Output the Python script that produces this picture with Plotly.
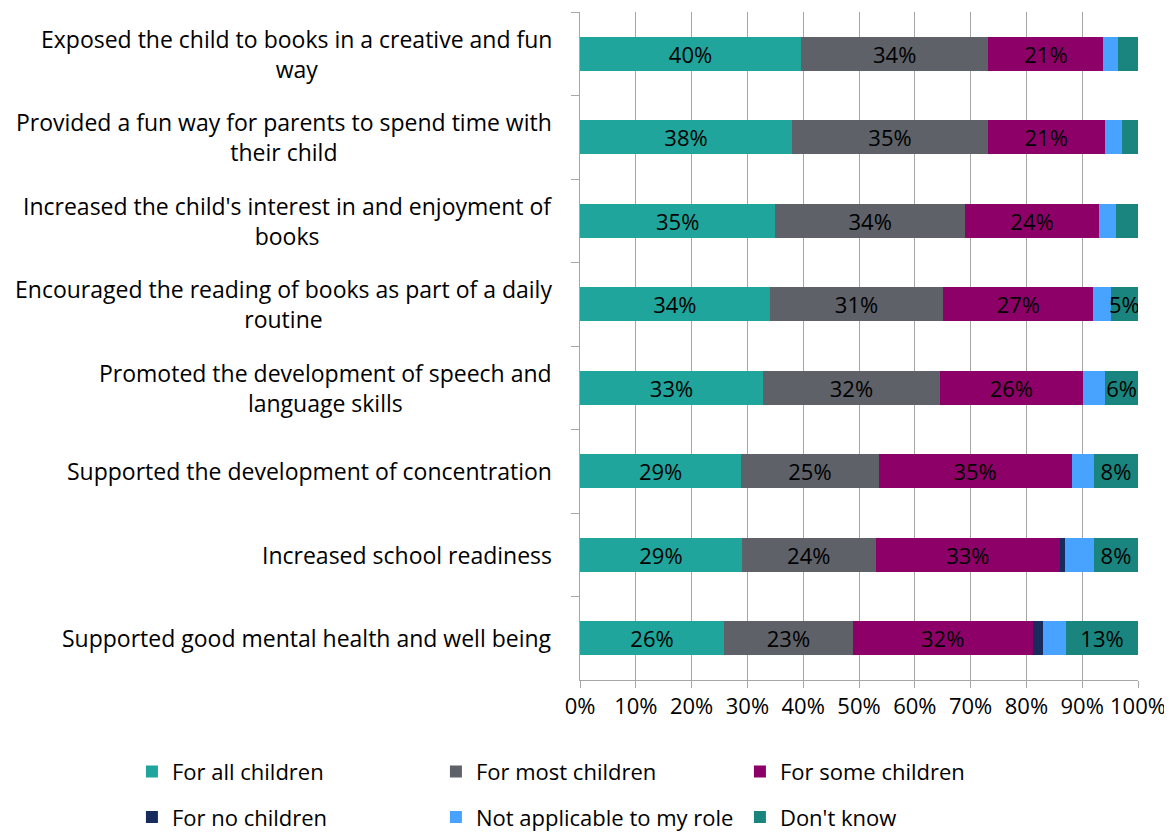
import plotly.graph_objects as go

categories = [
    "Exposed the child to books in a creative and fun<br>way",
    "Provided a fun way for parents to spend time with<br>their child",
    "Increased the child's interest in and enjoyment of<br>books",
    "Encouraged the reading of books as part of a daily<br>routine",
    "Promoted the development of speech and<br>language skills",
    "Supported the development of concentration",
    "Increased school readiness",
    "Supported good mental health and well being",
]

series_names = ["For all children", "For most children", "For some children",
                "For no children", "Not applicable to my role", "Don't know"]

all_children = [39.6, 38.0, 35.0, 34.0, 32.8, 28.9, 29.0, 25.8]
most_children = [33.6, 35.1, 34.0, 31.1, 31.7, 24.6, 24.0, 23.1]
some_children = [20.6, 20.9, 24.0, 26.9, 25.6, 34.6, 33.0, 32.2]
no_children = [0.0, 0.0, 0.0, 0.0, 0.0, 0.0, 1.0, 1.9]
not_applicable = [2.6, 3.1, 3.0, 3.1, 4.0, 4.0, 5.1, 4.1]
dont_know = [3.6, 2.9, 4.0, 4.9, 5.9, 7.9, 7.9, 12.9]

tick_vals = [0, 0.1, 0.2, 0.3, 0.4, 0.5, 0.6, 0.7, 0.8, 0.9, 1.0]
tick_text = ["0%", "10%", "20%", "30%", "40%", "50%", "60%", "70%", "80%", "90%", "100%"]

colors = ["#1FA59B", "#5E6168", "#8C0068", "#172B5C", "#47A3FF", "#1A857F"]
label_rule = ["all", "all", "all", "none", "none", "big"]
legends = ["legend", "legend", "legend", "legend2", "legend2", "legend2"]

FONT = "Open Sans"
FS = 23

values = [all_children, most_children, some_children, no_children, not_applicable, dont_know]

fig = go.Figure()
for name, vals, col, rule, lg in zip(series_names, values, colors, label_rule, legends):
    if rule == "all":
        txt = [f"{round(v)}%" for v in vals]
    elif rule == "big":
        txt = [f"{round(v)}%" if v >= 4.5 else "" for v in vals]
    else:
        txt = ["" for v in vals]
    fig.add_trace(go.Bar(
        y=categories, x=[v / 100 for v in vals], name=name, orientation="h",
        marker=dict(color=col, line=dict(width=0)),
        text=txt, textposition="inside", insidetextanchor="middle", textangle=0,
        constraintext="none",
        textfont=dict(family=FONT, size=FS - 1, color="#000000"),
        legend=lg,
    ))

for c in categories:
    fig.add_annotation(
        x=-0.046, xref="paper", y=c, yref="y", text=c, showarrow=False,
        xanchor="right", yanchor="middle", align="center",
        font=dict(family=FONT, size=FS, color="#000000"),
    )

leg_common = dict(orientation="h", x=-0.803, xanchor="left", yanchor="top",
                  entrywidth=259, entrywidthmode="pixels", traceorder="normal",
                  font=dict(family=FONT, size=FS - 1, color="#000000"), itemclick=False)

# page body has an 8px offset, so the figure is 8px smaller and margins shifted
fig.update_layout(
    width=1164, height=824,
    barmode="stack", bargap=0.59,
    plot_bgcolor="#FFFFFF", paper_bgcolor="#FFFFFF",
    margin=dict(l=572, r=34, t=4, b=152, autoexpand=False),
    font=dict(family=FONT, size=FS, color="#000000"),
    legend=dict(y=-0.106, **leg_common),
    legend2=dict(y=-0.174, **leg_common),
    showlegend=True,
)
fig.update_xaxes(range=[0, 1], tickvals=tick_vals, ticktext=tick_text,
                 showgrid=True, gridcolor="#A6A6A6", gridwidth=1,
                 showline=True, linecolor="#A6A6A6", linewidth=1,
                 ticks="outside", ticklen=7, tickcolor="#A6A6A6",
                 tickfont=dict(family=FONT, size=FS - 1, color="#000000"),
                 zeroline=False, fixedrange=True)
fig.update_yaxes(autorange="reversed", showticklabels=False,
                 showline=True, linecolor="#A6A6A6", linewidth=1,
                 ticks="outside", ticklen=8, tickcolor="#A6A6A6", tickson="boundaries",
                 showgrid=False, zeroline=False, fixedrange=True)

fig.write_html("out.html")
